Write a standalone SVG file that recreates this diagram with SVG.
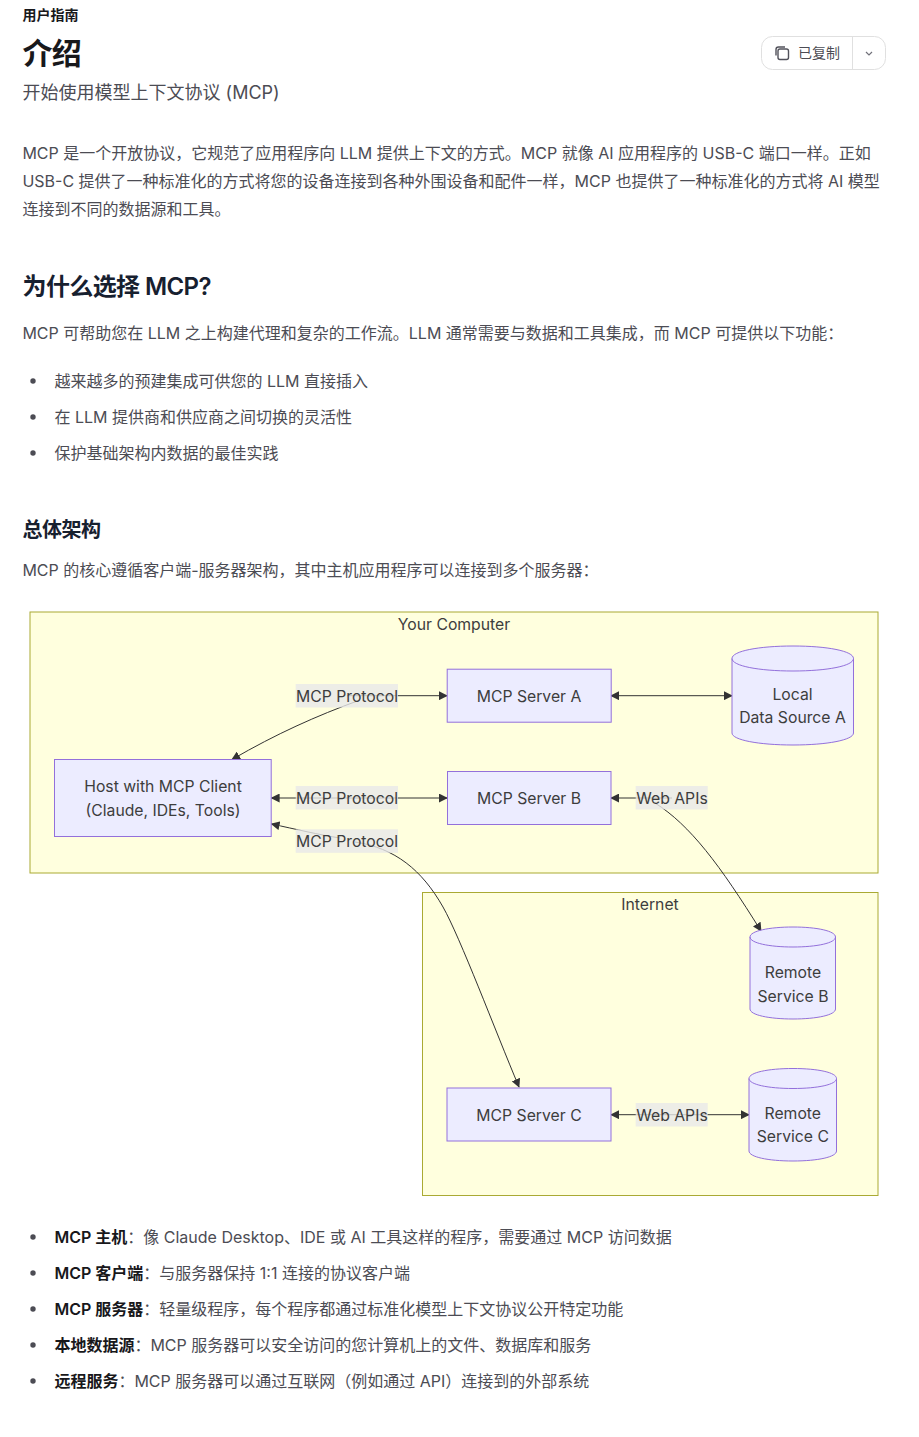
<svg xmlns="http://www.w3.org/2000/svg" width="919" height="1437" viewBox="0 0 919 1437">
<style>
text{font-family:"Inter","Noto Sans CJK SC","Noto Sans",sans-serif;fill:#4c4c54;font-size:16px}
.b{fill:#18181b;font-weight:600}
.h{fill:#18181b;font-weight:700;letter-spacing:-.025em}
.h2{fill:#17202f;font-weight:600;letter-spacing:-.025em}
.c{text-anchor:middle;fill:#3d3d3d;font-size:15.75px}
.cl{fill:#ffffde;stroke:#aaaa33;stroke-width:1}
.n{fill:#ececff;stroke:#9370db;stroke-width:1}
.e{fill:none;stroke:#333;stroke-width:1;marker-end:url(#a)}
.lb{fill:#e8e8e8;fill-opacity:.8}
.dot{fill:#4c4c54}
</style>
<defs>
<marker id="a" viewBox="0 0 10 10" refX="9" refY="5" markerWidth="9" markerHeight="9" orient="auto-start-reverse"><path d="M0 0L10 5L0 10z" fill="#333"/></marker>
</defs>
<rect width="919" height="1437" fill="#fff"/>
<g id="page-header">
<text x="22.500" y="20" class="b" style="font-size:14px">用户指南</text>
<text x="22.500" y="64" class="h" style="font-size:30px">介绍</text>
<text x="22.500" y="99" style="font-size:18px">开始使用模型上下文协议 (MCP)</text>
</g>
<g id="copy-button">
<rect x="761.500" y="36.500" width="124" height="33" rx="11" fill="#fff" stroke="#e0e0e0"/>
<path d="M852.500 37V69" stroke="#e0e0e0" fill="none"/>
<rect x="778" y="49" width="10.500" height="10.500" rx="2" fill="none" stroke="#52525b" stroke-width="1.400"/>
<path d="M776 55.500V49.500Q776 47 778.500 47H785" fill="none" stroke="#52525b" stroke-width="1.400"/>
<text x="798" y="58" style="font-size:14px">已复制</text>
<path d="M866 52L869 55L872 52" fill="none" stroke="#71717a" stroke-width="1.200"/>
</g>
<g id="intro">
<text x="22.400" y="159">MCP 是一个开放协议，它规范了应用程序向 LLM 提供上下文的方式。MCP 就像 AI 应用程序的 USB-C 端口一样。正如</text>
<text x="22.400" y="187">USB-C 提供了一种标准化的方式将您的设备连接到各种外围设备和配件一样，MCP 也提供了一种标准化的方式将 AI 模型</text>
<text x="22.400" y="215">连接到不同的数据源和工具。</text>
</g>
<g id="why">
<text x="22.500" y="295" class="h2" style="font-size:24px">为什么选择 MCP?</text>
<text x="22.400" y="339">MCP 可帮助您在 LLM 之上构建代理和复杂的工作流。LLM 通常需要与数据和工具集成，而 MCP 可提供以下功能：</text>
<circle cx="33" cy="381" r="2.700" class="dot"/><text x="54.400" y="387">越来越多的预建集成可供您的 LLM 直接插入</text>
<circle cx="33" cy="417" r="2.700" class="dot"/><text x="54.400" y="423">在 LLM 提供商和供应商之间切换的灵活性</text>
<circle cx="33" cy="453" r="2.700" class="dot"/><text x="54.400" y="459">保护基础架构内数据的最佳实践</text>
</g>
<g id="arch">
<text x="22.500" y="537" class="h2" style="font-size:20px">总体架构</text>
<text x="22.400" y="576">MCP 的核心遵循客户端-服务器架构，其中主机应用程序可以连接到多个服务器：</text>
</g>
<g id="cluster-computer"><rect class="cl" x="30" y="612" width="848" height="261"/><text class="c" x="454" y="630">Your Computer</text></g>
<g id="cluster-internet"><rect class="cl" x="422.500" y="892.500" width="455.500" height="303"/><text class="c" x="650" y="910">Internet</text></g>
<g id="connectors">
<path class="e" d="M347 695.700H447"/>
<path class="e" d="M360 700C316 716 276 734 232 759.500"/>
<path class="e" d="M347 798H447"/>
<path class="e" d="M347 798H271.500"/>
<path class="e" d="M340 838C320 835 295 829 271.500 824"/>
<path class="e" d="M355 842C395 848 422 870 443 907C460 937 495 1030 519 1087"/>
<path class="e" d="M640 695.700H611"/>
<path class="e" d="M640 695.700H732"/>
<path class="e" d="M672 798H611"/>
<path class="e" d="M655 803C690 825 720 865 761 931"/>
<path class="e" d="M672 1114.700H611"/>
<path class="e" d="M672 1114.700H749"/>
</g>
<g id="edge-labels">
<rect class="lb" x="295.700" y="684" width="102.300" height="23.500"/><text class="c" x="347" y="702">MCP Protocol</text>
<rect class="lb" x="295.700" y="786" width="102.300" height="23.500"/><text class="c" x="347" y="804">MCP Protocol</text>
<rect class="lb" x="295.700" y="829.300" width="102.300" height="23.500"/><text class="c" x="347" y="847">MCP Protocol</text>
<rect class="lb" x="635.700" y="786" width="72" height="23.500"/><text class="c" x="672" y="804">Web APIs</text>
<rect class="lb" x="635.700" y="1103" width="72" height="23.500"/><text class="c" x="672" y="1121">Web APIs</text>
</g>
<g id="node-host"><rect class="n" x="54.500" y="759.500" width="216.700" height="77"/><text class="c" x="163" y="792">Host with MCP Client</text><text class="c" x="163" y="816">(Claude, IDEs, Tools)</text></g>
<g id="node-server-a"><rect class="n" x="447.200" y="669.200" width="164" height="53"/><text class="c" x="529" y="702">MCP Server A</text></g>
<g id="node-server-b"><rect class="n" x="447.500" y="771.500" width="163.500" height="53"/><text class="c" x="529" y="804">MCP Server B</text></g>
<g id="node-server-c"><rect class="n" x="447" y="1088" width="164" height="53"/><text class="c" x="529" y="1121">MCP Server C</text></g>
<g id="node-local"><path class="n" d="M732 658.500C732 651 759 646 793 646S853.500 651 853.500 658.500V733C853.500 740 827 745 793 745S732 740 732 733Z"/><path class="n" style="fill:none" d="M732 658.500C732 666 759 671 793 671S853.500 666 853.500 658.500"/><text class="c" x="792.500" y="700">Local</text><text class="c" x="792.500" y="723">Data Source A</text></g>
<g id="node-remote-b"><path class="n" d="M750 937C750 931 769 927 793 927S835.500 931 835.500 937V1009C835.500 1015 817 1019 793 1019S750 1015 750 1009Z"/><path class="n" style="fill:none" d="M750 937C750 943 769 947 793 947S835.500 943 835.500 937"/><text class="c" x="793" y="978">Remote</text><text class="c" x="793" y="1002">Service B</text></g>
<g id="node-remote-c"><path class="n" d="M749 1078.500C749 1072.500 768 1068.500 793 1068.500S836.500 1072.500 836.500 1078.500V1151C836.500 1157 818 1161 793 1161S749 1157 749 1151Z"/><path class="n" style="fill:none" d="M749 1078.500C749 1084.500 768 1088.500 793 1088.500S836.500 1084.500 836.500 1078.500"/><text class="c" x="792.800" y="1119">Remote</text><text class="c" x="792.800" y="1142">Service C</text></g>
<g id="legend">
<circle cx="33" cy="1237" r="2.700" class="dot"/><text x="54.400" y="1243"><tspan class="b">MCP 主机</tspan>：像 Claude Desktop、IDE 或 AI 工具这样的程序，需要通过 MCP 访问数据</text>
<circle cx="33" cy="1273" r="2.700" class="dot"/><text x="54.400" y="1279"><tspan class="b">MCP 客户端</tspan>：与服务器保持 1:1 连接的协议客户端</text>
<circle cx="33" cy="1309" r="2.700" class="dot"/><text x="54.400" y="1315"><tspan class="b">MCP 服务器</tspan>：轻量级程序，每个程序都通过标准化模型上下文协议公开特定功能</text>
<circle cx="33" cy="1345" r="2.700" class="dot"/><text x="54.400" y="1351"><tspan class="b">本地数据源</tspan>：MCP 服务器可以安全访问的您计算机上的文件、数据库和服务</text>
<circle cx="33" cy="1381" r="2.700" class="dot"/><text x="54.400" y="1387"><tspan class="b">远程服务</tspan>：MCP 服务器可以通过互联网（例如通过 API）连接到的外部系统</text>
</g>
</svg>
